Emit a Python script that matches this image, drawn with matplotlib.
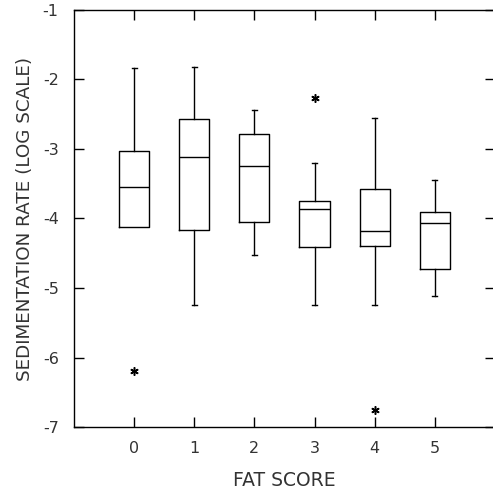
import matplotlib
matplotlib.use("Agg")
import matplotlib.pyplot as plt

plt.rcParams['font.family'] = ['DejaVu Sans']
plt.rcParams['axes.unicode_minus'] = False

fat_scores = [0, 1, 2, 3, 4, 5]
whisker_hi = [-1.84, -1.82, -2.44, -3.20, -2.56, -3.45]
q3_vals = [-3.03, -2.57, -2.79, -3.75, -3.58, -3.91]
medians = [-3.54, -3.12, -3.24, -3.86, -4.18, -4.07]
q1_vals = [-4.12, -4.16, -4.05, -4.41, -4.40, -4.73]
whisker_lo = [-4.12, -5.24, -4.53, -5.24, -5.24, -5.12]
outliers = [[-6.20], [], [], [-2.27], [-6.75], []]

stats = []
for i in range(len(fat_scores)):
    stats.append(dict(med=medians[i], q1=q1_vals[i], q3=q3_vals[i],
                      whislo=whisker_lo[i], whishi=whisker_hi[i],
                      fliers=outliers[i], label=str(fat_scores[i])))

fig = plt.figure(figsize=(4.93, 4.96), dpi=100)
ax = fig.add_axes([0.150, 0.139, 0.854, 0.841])

lw = 1.0
bp = ax.bxp(stats, positions=fat_scores, widths=0.5, capwidths=0.08,
            boxprops=dict(color='black', linewidth=lw),
            medianprops=dict(color='black', linewidth=lw),
            whiskerprops=dict(color='black', linewidth=lw),
            capprops=dict(color='black', linewidth=lw),
            flierprops=dict(marker=(6, 2, 0), markersize=6, markeredgewidth=1.1,
                            markerfacecolor='black', markeredgecolor='black',
                            linestyle='none'))
# no lower whisker / cap where whisker equals the box edge
for i in range(len(fat_scores)):
    if whisker_lo[i] == q1_vals[i]:
        bp['caps'][2 * i].set_visible(False)
    if whisker_hi[i] == q3_vals[i]:
        bp['caps'][2 * i + 1].set_visible(False)

ax.set_xlim(-1, 6)
ax.set_ylim(-7, -1)
ax.set_xticks(fat_scores)
ax.set_xticklabels([str(s) for s in fat_scores])
ax.set_yticks([-7, -6, -5, -4, -3, -2, -1])
ax.tick_params(direction='in', length=7, width=lw, top=True, right=True,
               labelsize=11.5, color='black', labelcolor='#333333')
ax.tick_params(axis='y', pad=11)
ax.tick_params(axis='x', pad=10)
for sp in ax.spines.values():
    sp.set_linewidth(lw)
    sp.set_color('black')

ax.set_xlabel('FAT SCORE', fontsize=13.5, labelpad=11, color='#333333')
ax.set_ylabel('SEDIMENTATION RATE (LOG SCALE)', fontsize=13.2, labelpad=6,
              color='#333333')

fig.savefig('out.png', dpi=100)
